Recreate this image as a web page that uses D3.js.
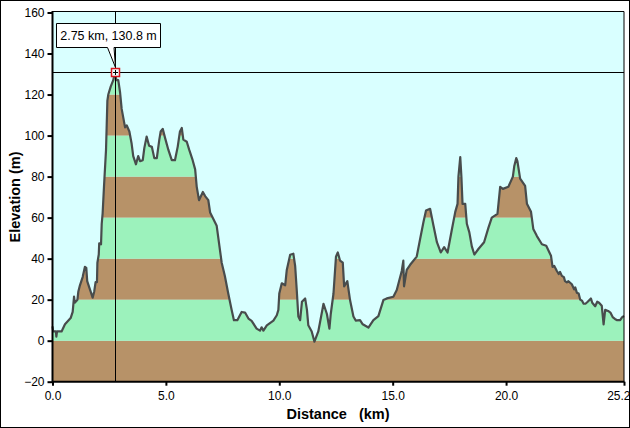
<!DOCTYPE html>
<html>
<head>
<meta charset="utf-8">
<script src="https://cdn.jsdelivr.net/npm/d3@7"></script>
<style>
  html, body { margin: 0; padding: 0; background: #fff; }
  svg { display: block; }
  text { font-family: "Liberation Sans", Arial, sans-serif; fill: #000; }
</style>
</head>
<body>
<script>
// profile: [km, m]
const distances = [0,0.03,0.15,0.17,0.2,0.4,0.55,0.8,0.89,0.95,0.98,1.1,1.14,1.21,1.33,1.43,1.49,1.53,1.68,1.77,1.84,1.9,1.96,1.98,2.04,2.06,2.14,2.17,2.21,2.27,2.36,2.42,2.46,2.57,2.68,2.75,2.82,2.9,2.98,3.05,3.2,3.27,3.39,3.49,3.56,3.68,3.78,3.86,3.98,4.05,4.15,4.26,4.38,4.49,4.6,4.71,4.77,4.86,4.96,5.11,5.26,5.4,5.52,5.62,5.7,5.77,5.92,6.03,6.18,6.29,6.36,6.46,6.63,6.73,6.87,6.95,7.24,7.46,7.6,7.75,7.9,8.0,8.15,8.34,8.49,8.64,8.78,9.0,9.15,9.22,9.3,9.45,9.74,9.89,9.96,10.0,10.11,10.26,10.33,10.48,10.62,10.7,10.77,10.84,10.92,11.0,11.14,11.22,11.28,11.43,11.55,11.72,11.95,12.1,12.21,12.27,12.39,12.5,12.58,12.68,12.8,12.86,13.0,13.12,13.27,13.37,13.56,13.68,13.93,14.15,14.37,14.59,14.74,15.03,15.18,15.4,15.47,15.5,15.62,15.77,16.06,16.21,16.36,16.47,16.65,16.8,16.95,17.12,17.27,17.42,17.6,17.76,17.86,17.9,17.98,18.03,18.08,18.2,18.27,18.38,18.49,18.6,18.78,19.03,19.22,19.37,19.62,19.74,19.86,20.1,20.3,20.36,20.45,20.5,20.62,20.84,20.92,21.1,21.2,21.36,21.58,21.77,21.98,22.05,22.12,22.24,22.32,22.38,22.46,22.55,22.6,22.68,22.75,22.9,23.0,23.05,23.12,23.2,23.27,23.35,23.42,23.5,23.6,23.74,23.8,23.93,24.02,24.1,24.22,24.3,24.37,24.5,24.6,24.7,24.8,24.9,25.03,25.12,25.2];
const elevations = [7,4.5,4.5,2,4.5,4.5,8,11,14,21.5,18.5,20,24,27,31,36,35.5,29,24,21,24,28.5,28.5,38,42,47.5,47,57,62,75,93,117,120,124,127,130.8,127,127,121,113,104,105,102,96,90,86,90,87.5,88,94,99.5,95,94.5,89,89,98,102,103.3,99,93,88,88,94.5,102,103.7,98,97,93,88,83.5,75,68.5,72.5,70.5,68.5,62.5,56,38,31.5,23,15,10,10,14,13.7,10.8,9.7,5.9,4.9,6.5,4.9,7.5,9.8,12.4,15,23,28,27,34.5,41.9,42.4,36.4,24.7,11.8,10,19,20.6,15,7.5,4.5,-0.5,4.5,18,13,5.9,13,23,41,43,39,38,26.5,29,19.8,11.8,9.8,10,8,6.4,10,12,19.8,20.6,21.4,24.7,34,39,26.5,34.5,37,41,49.6,58,63.5,64.3,56,48,43,45.6,43,53.6,62.8,66.7,80,89.5,80,66.7,66.7,57,52.8,46,42,44.7,48,55,60,61.8,75,74,75,80,85,89,87.5,79,75.5,66.7,62.8,54.5,51,47,46.3,41.4,36,36.5,34,32.5,33.5,31.6,31,29,28.4,29,27.5,25,26,23.4,23,20,19.5,18,18,19,20.6,18.5,16.8,19,18.5,17,7.9,15,14.5,13.7,11.5,10.6,10,10,11.5,12];
const bandEdges = [-20,0,20,40,60,80,100,120,140];
const bandColors = ['#b79268','#9cf2bc'];
const xTicks = [0,5,10,15,20,25.2];
const yTicks = [-20,0,20,40,60,80,100,120,140,160];
const markerKm = 2.75, markerM = 130.8;

const width = 630, height = 428;
const plot = { left: 52.5, right: 624, top: 11.5, bottom: 381.7 };
const profile = distances.map((d, i) => [d, elevations[i]]);

const x = d3.scaleLinear().domain([0, 25.2]).range([plot.left, plot.right]);
const y = d3.scaleLinear().domain([-20, 160]).range([plot.bottom, 12.5]);

const svg = d3.select('body').append('svg')
  .attr('width', width)
  .attr('height', height);

// window frame
svg.append('rect')
  .attr('x', 0.5).attr('y', 0.5)
  .attr('width', width - 1).attr('height', height - 1)
  .attr('fill', '#fff').attr('stroke', '#000');

// sky
svg.append('rect')
  .attr('x', plot.left).attr('y', plot.top)
  .attr('width', plot.right - plot.left).attr('height', plot.bottom - plot.top)
  .attr('fill', '#d9ffff');

// elevation bands clipped to the ground
const area = d3.area().x(d => x(d[0])).y0(plot.bottom).y1(d => y(d[1]));
svg.append('clipPath').attr('id', 'ground')
  .append('path').attr('d', area(profile));

svg.append('g').attr('clip-path', 'url(#ground)')
  .selectAll('rect')
  .data(bandEdges.slice(0, -1))
  .enter().append('rect')
  .attr('x', plot.left)
  .attr('width', plot.right - plot.left)
  .attr('y', d => y(d + 20))
  .attr('height', d => y(d) - y(d + 20))
  .attr('fill', (d, i) => bandColors[i % 2]);

// profile line
svg.append('path')
  .attr('d', d3.line().x(d => x(d[0])).y(d => y(d[1]))(profile))
  .attr('fill', 'none')
  .attr('stroke', '#484c4c')
  .attr('stroke-width', 2.2)
  .attr('stroke-linejoin', 'round');

// crosshair
const mx = Math.round(x(markerKm)) + 0.5, my = Math.floor(y(markerM)) + 0.5;
svg.append('line').attr('x1', mx).attr('x2', mx).attr('y1', plot.top).attr('y2', plot.bottom).attr('stroke', '#000');
svg.append('line').attr('x1', plot.left).attr('x2', plot.right).attr('y1', my).attr('y2', my).attr('stroke', '#000');

// axes
const xAxis = d3.axisBottom(x).tickValues(xTicks).tickFormat(d3.format('.1f')).tickSize(4).tickSizeOuter(0);
const yAxis = d3.axisLeft(y).tickValues(yTicks).tickSize(5).tickSizeOuter(0);

const gx = svg.append('g').attr('transform', `translate(0,${plot.bottom})`).call(xAxis);
const gy = svg.append('g').attr('transform', `translate(${plot.left},0)`).call(yAxis);
[gx, gy].forEach(g => {
  g.selectAll('.domain').remove();
  g.selectAll('text').attr('font-size', 12).attr('font-family', '"Liberation Sans", Arial, sans-serif');
  g.selectAll('line').attr('stroke', '#000').attr('stroke-width', 2);
});
gx.selectAll('text').attr('y', 10);
gy.selectAll('text').attr('x', -8);
gx.selectAll('.tick').filter(d => d === 25.2).select('text').attr('text-anchor', 'end').attr('dx', 6);

// plot border, thick on the axes
svg.append('path')
  .attr('d', `M${plot.left},${plot.top}H${plot.right}V${plot.bottom}`)
  .attr('fill', 'none').attr('stroke', '#000').attr('stroke-width', 1);
svg.append('path')
  .attr('d', `M${plot.left},${plot.top - 0.5}V${plot.bottom}H${plot.right + 0.5}`)
  .attr('fill', 'none').attr('stroke', '#000').attr('stroke-width', 2);

// axis titles
svg.append('text')
  .attr('x', 338).attr('y', 419)
  .attr('text-anchor', 'middle')
  .attr('font-size', 14.5).attr('font-weight', 'bold')
  .style('white-space', 'pre')
  .text('Distance   (km)');
svg.append('text')
  .attr('transform', 'translate(20,197) rotate(-90)')
  .attr('text-anchor', 'middle')
  .attr('font-size', 14.5).attr('font-weight', 'bold')
  .text('Elevation (m)');

// callout
const box = { x: 56.5, y: 23.5, w: 104, h: 24 };
svg.append('path')
  .attr('d', `M${box.x},${box.y}h${box.w}v${box.h}H${mx - 1.5}L${mx},${my - 5}L${mx - 8},${box.y + box.h}H${box.x}Z`)
  .attr('fill', '#fff').attr('stroke', '#000');
svg.append('text')
  .attr('x', box.x + box.w / 2).attr('y', box.y + 16.5)
  .attr('text-anchor', 'middle')
  .attr('font-size', 12.5)
  .text(`${markerKm} km, ${markerM} m`);

// marker
svg.append('rect')
  .attr('x', mx - 4).attr('y', my - 4)
  .attr('width', 8).attr('height', 8)
  .attr('fill', '#eefcff').attr('stroke', '#d8141e').attr('stroke-width', 1.5);
svg.append('path')
  .attr('d', `M${mx - 2.5},${my}H${mx + 2.5}M${mx},${my - 2.5}V${my + 2.5}`)
  .attr('stroke', '#000').attr('fill', 'none');
</script>
</body>
</html>
